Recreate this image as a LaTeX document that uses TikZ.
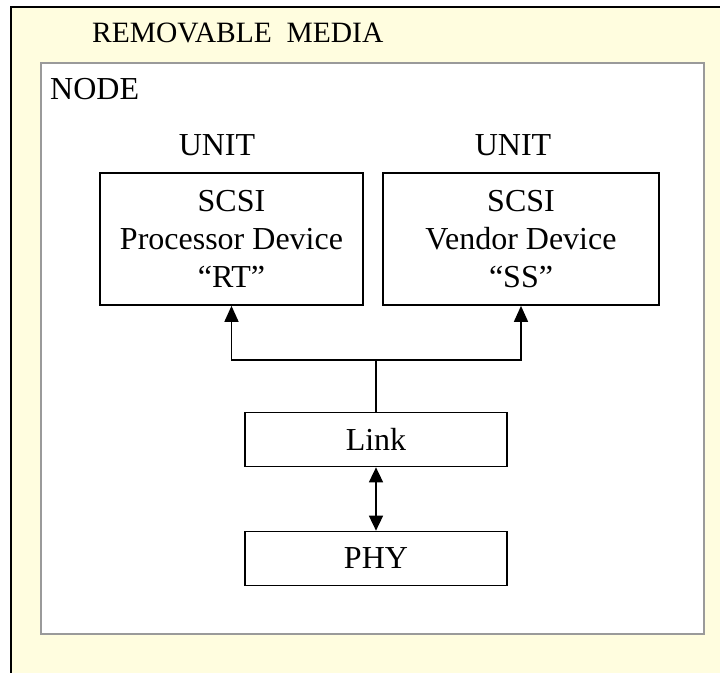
\documentclass[tikz,border=0pt]{standalone}
\usepackage{fontspec}
\setmainfont{Liberation Serif}
\usepackage{xcolor}
\usetikzlibrary{arrows.meta,positioning}
\definecolor{mediayellow}{HTML}{FFFDDF}
\definecolor{nodegray}{HTML}{9A9A9A}

\begin{document}
\begin{tikzpicture}[
  x=1pt,y=1pt,
  font=\fontsize{32}{37.7}\selectfont,
  >=Triangle,
  mediabox/.style={draw=black,line width=2pt,fill=mediayellow,anchor=north west,
    inner sep=0pt,minimum width=740pt,minimum height=700pt},
  nodebox/.style={draw=nodegray,line width=1.5pt,fill=white,anchor=north west,
    inner sep=0pt,minimum width=663pt,minimum height=571pt},
  label/.style={inner sep=0pt},
  unitbox/.style={draw=black,line width=1.7pt,align=center,inner sep=0pt,
    minimum height=132pt},
  layerbox/.style={draw=black,line width=1.7pt,inner sep=0pt,
    minimum width=262pt,minimum height=54pt},
  flow/.style={-{Triangle[width=14pt,length=16pt]},line width=1.6pt},
  dflow/.style={{Triangle[width=14pt,length=15pt]}-{Triangle[width=14pt,length=15pt]},
    line width=1.6pt}
]
  \useasboundingbox (0,0) rectangle (720,-672);
  \node[mediabox] (media) at (10,-6) {};
  \node[label,anchor=base west,font=\fontsize{29.5}{36}\selectfont] (medialabel)
    at (92,-42) {REMOVABLE\ \ MEDIA};
  \node[nodebox] (node) at (40,-62) {};
  \node[label,anchor=base west] (nodelabel) at (50,-99) {NODE};

  \node[unitbox,minimum width=263pt] (rt) at (231.5,-239)
    {SCSI\\Processor Device\\``RT''};
  \node[unitbox,minimum width=276pt] (ss) at (521,-239)
    {SCSI\\Vendor Device\\``SS''};
  \node[label,anchor=base] (unitrt) at (217,-155) {UNIT};
  \node[label,anchor=base] (unitss) at (513,-155) {UNIT};

  \node[layerbox] (link) at (376,-439.5) {Link};
  \node[layerbox] (phy) at (376,-558.5) {PHY};

  \coordinate (split) at (376,-360);
  \draw[line width=1.6pt] (link.north) -- (split);
  \draw[flow] (split) -| (rt.south);
  \draw[flow] (split) -| (ss.south);
  \draw[dflow] (link.south) -- (phy.north);
\end{tikzpicture}
\end{document}
